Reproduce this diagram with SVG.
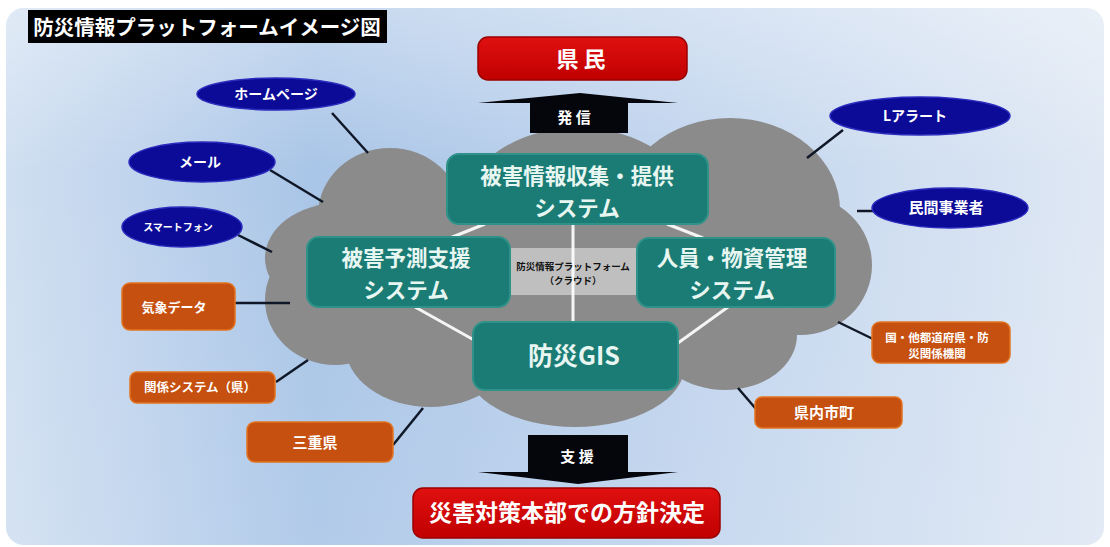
<svg xmlns="http://www.w3.org/2000/svg" width="1110" height="547" viewBox="0 0 1110 547">
<defs>
<linearGradient id="bg" x1="0" y1="0" x2="1" y2="0">
<stop offset="0" stop-color="#d0dff1"/>
<stop offset="0.28" stop-color="#a9c5e7"/>
<stop offset="0.6" stop-color="#bfd3ed"/>
<stop offset="1" stop-color="#dfe8f4"/>
</linearGradient>
<linearGradient id="bgv" x1="0" y1="0" x2="0" y2="1">
<stop offset="0" stop-color="#ffffff" stop-opacity="0.35"/>
<stop offset="0.3" stop-color="#ffffff" stop-opacity="0"/>
<stop offset="1" stop-color="#ffffff" stop-opacity="0.1"/>
</linearGradient>
<linearGradient id="red" x1="0" y1="0" x2="0" y2="1">
<stop offset="0" stop-color="#e01010"/>
<stop offset="1" stop-color="#c00000"/>
</linearGradient>
</defs>
<style>
text{font-family:"Noto Sans CJK JP","Noto Sans",sans-serif;font-weight:bold;text-anchor:middle}
.teal{fill:#1a7c75;stroke:#2e9289;stroke-width:2}
.tt{fill:#e8f6f2;font-size:21.5px}
.gis{fill:#e8f6f2;font-size:25px}
.blue{fill:#0b0b98;stroke:#2b2bbd;stroke-width:1.5}
.org{fill:#c65010;stroke:#e2731f;stroke-width:1.5}
.wt{fill:#ffffff}
.redbox{fill:url(#red);stroke:#9a0000;stroke-width:1.5}
.cl{fill:#8b8b8b}
.conn line{stroke:#101828;stroke-width:2.5}
.wl line{stroke:#f4f4f4;stroke-width:3}
</style>
<rect x="6" y="8" width="1098" height="537" rx="18" fill="url(#bg)"/>
<rect x="6" y="8" width="1098" height="537" rx="18" fill="url(#bgv)"/>
<g id="title">
<rect x="28" y="10" width="359" height="33" fill="#000"/>
<text x="207" y="35" class="wt" font-size="20.5">防災情報プラットフォームイメージ図</text>
</g>
<g id="cloud" class="cl">
<ellipse cx="575" cy="275" rx="230" ry="105"/>
<ellipse cx="390" cy="215" rx="72" ry="67"/>
<ellipse cx="340" cy="258" rx="75" ry="55"/>
<ellipse cx="578" cy="205" rx="112" ry="77"/>
<ellipse cx="730" cy="210" rx="110" ry="92"/>
<ellipse cx="800" cy="265" rx="72" ry="70"/>
<ellipse cx="725" cy="335" rx="72" ry="55"/>
<ellipse cx="575" cy="365" rx="110" ry="62"/>
<ellipse cx="430" cy="345" rx="85" ry="62"/>
<ellipse cx="335" cy="300" rx="70" ry="65"/>
</g>
<g id="connectors">
<g class="conn">
<line x1="332" y1="113" x2="368" y2="153"/>
<line x1="270" y1="170" x2="323" y2="202"/>
<line x1="238" y1="235" x2="272" y2="252"/>
<line x1="235" y1="303" x2="290" y2="303"/>
<line x1="276" y1="382" x2="308" y2="360"/>
<line x1="393" y1="445" x2="423" y2="408"/>
<line x1="807" y1="158" x2="843" y2="130"/>
<line x1="857" y1="211" x2="873" y2="211"/>
<line x1="838" y1="322" x2="873" y2="339"/>
<line x1="738" y1="388" x2="756" y2="409"/>
</g>
<g class="wl">
<line x1="573" y1="224" x2="573" y2="322"/>
<line x1="450" y1="238" x2="485" y2="224"/>
<line x1="667" y1="224" x2="703" y2="238"/>
<line x1="415" y1="307" x2="474" y2="340"/>
<line x1="728" y1="307" x2="678" y2="343"/>
</g>
</g>
<g id="platform-label">
<rect x="497" y="248" width="153" height="47" fill="#ffffff" fill-opacity="0.45"/>
<text x="573" y="270" font-size="9.5" fill="#111">防災情報プラットフォーム<tspan x="573" dy="14">（クラウド）</tspan></text>
</g>
<g id="n-collect">
<rect x="447" y="154" width="261" height="70" rx="12" class="teal"/>
<text x="577" y="184" class="tt">被害情報収集・提供<tspan x="577" dy="31.5">システム</tspan></text>
</g>
<g id="n-predict">
<rect x="307" y="237" width="203" height="70" rx="12" class="teal"/>
<text x="406" y="266" class="tt">被害予測支援<tspan x="406" dy="31.5">システム</tspan></text>
</g>
<g id="n-resource">
<rect x="637" y="238" width="198" height="69" rx="12" class="teal"/>
<text x="732" y="266" class="tt">人員・物資管理<tspan x="732" dy="31.5">システム</tspan></text>
</g>
<g id="n-gis">
<rect x="473" y="322" width="205" height="68" rx="12" class="teal"/>
<text x="574" y="365" class="gis">防災GIS</text>
</g>
<g id="n-kenmin">
<rect x="478" y="37" width="209" height="43" rx="10" class="redbox"/>
<text x="581" y="67" class="wt" font-size="22">県 民</text>
</g>
<g id="arrow-up">
<polygon points="478,103 580,93 678,103 628,103 628,133 530,133 530,103" fill="#05050c"/>
<text x="574" y="123" class="wt" font-size="15">発 信</text>
</g>
<g id="arrow-down">
<polygon points="528,435 628,435 628,472 678,472 578,484 478,472 528,472" fill="#05050c"/>
<text x="577" y="462" class="wt" font-size="15">支 援</text>
</g>
<g id="n-decision">
<rect x="413" y="488" width="307" height="50" rx="10" class="redbox"/>
<text x="567" y="521" class="wt" font-size="23">災害対策本部での方針決定</text>
</g>
<g id="n-homepage">
<ellipse cx="276" cy="94" rx="79" ry="16" class="blue"/>
<text x="276" y="99" class="wt" font-size="14">ホームページ</text>
</g>
<g id="n-mail">
<ellipse cx="202" cy="162" rx="73" ry="20" class="blue"/>
<text x="200" y="167" class="wt" font-size="14">メール</text>
</g>
<g id="n-smartphone">
<ellipse cx="182" cy="227" rx="60" ry="20" class="blue"/>
<text x="178" y="231" class="wt" font-size="10">スマートフォン</text>
</g>
<g id="n-lalert">
<ellipse cx="920" cy="116" rx="90" ry="19" class="blue"/>
<text x="915" y="121" class="wt" font-size="14">Lアラート</text>
</g>
<g id="n-private">
<ellipse cx="950" cy="208" rx="78" ry="20" class="blue"/>
<text x="946" y="213" class="wt" font-size="15">民間事業者</text>
</g>
<g id="n-weather">
<rect x="122" y="283" width="113" height="47" rx="8" class="org"/>
<text x="174" y="312" class="wt" font-size="13">気象データ</text>
</g>
<g id="n-related">
<rect x="130" y="372" width="145" height="31" rx="7" class="org"/>
<text x="200" y="392" class="wt" font-size="12.5">関係システム（県）</text>
</g>
<g id="n-mie">
<rect x="247" y="422" width="146" height="40" rx="8" class="org"/>
<text x="315" y="448" class="wt" font-size="15">三重県</text>
</g>
<g id="n-national">
<rect x="872" y="322" width="138" height="41" rx="8" class="org"/>
<text x="937" y="342" class="wt" font-size="11.5">国・他都道府県・防<tspan x="937" dy="16">災関係機関</tspan></text>
</g>
<g id="n-municipal">
<rect x="755" y="397" width="147" height="31" rx="7" class="org"/>
<text x="824" y="418" class="wt" font-size="15">県内市町</text>
</g>
</svg>
